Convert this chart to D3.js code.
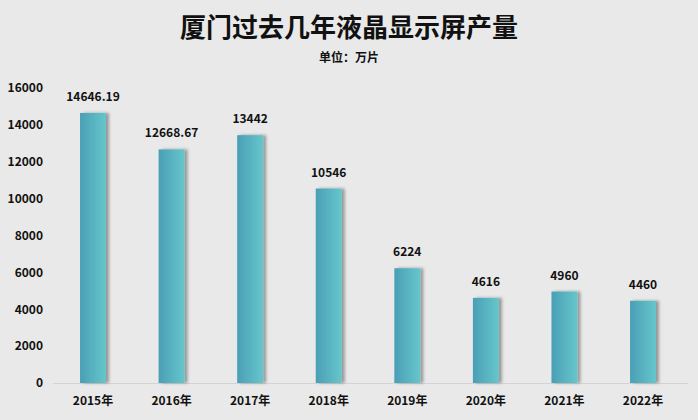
<!DOCTYPE html>
<html><head><meta charset="utf-8">
<script src="https://cdn.jsdelivr.net/npm/d3@7"></script>
<style>body{margin:0;background:#e9e9e9}text{font-family:"Noto Sans CJK SC","Noto Sans",sans-serif;font-weight:bold}</style>
</head><body><svg id="c" width="698" height="420"></svg>
<script>
var years = ['2015年','2016年','2017年','2018年','2019年','2020年','2021年','2022年'];
var values = [14646.19,12668.67,13442,10546,6224,4616,4960,4460];
var labels = ['14646.19','12668.67','13442','10546','6224','4616','4960','4460'];
var ticks = [0,2000,4000,6000,8000,10000,12000,14000,16000];

var svg = d3.select('#c');
var defs = svg.append('defs');
var g1 = defs.append('linearGradient').attr('id','bg');
g1.append('stop').attr('offset','0').attr('stop-color','#4a9fb6');
g1.append('stop').attr('offset','1').attr('stop-color','#66c6cb');
var f = defs.append('filter').attr('id','sh').attr('x','-20%').attr('width','160%');
f.append('feDropShadow').attr('dx',3).attr('dy',0).attr('stdDeviation',1.5).attr('flood-color','#000').attr('flood-opacity',0.35);

var x = d3.scaleBand().domain(years).range([53.7,682.3]).paddingInner(0.67).paddingOuter(0.335);
var y = d3.scaleLinear().domain([0,16000]).range([383,88]);

svg.append('text').attr('x',349).attr('y',37).attr('text-anchor','middle').attr('font-size',26).attr('fill','#111').text('厦门过去几年液晶显示屏产量');
svg.append('text').attr('x',349).attr('y',62).attr('text-anchor','middle').attr('font-size',12).attr('fill','#111').text('单位：万片');

var ya = svg.append('g').attr('transform','translate(46,0)').call(d3.axisLeft(y).tickValues(ticks).tickSize(0).tickFormat(d3.format('d')));
ya.select('.domain').remove();
ya.selectAll('text').attr('font-size',12).attr('fill','#111');

svg.append('line').attr('x1',53).attr('x2',688).attr('y1',383.5).attr('y2',383.5).attr('stroke','#d4d4d4');

svg.selectAll('rect.b').data(values).enter().append('rect').attr('class','b')
  .attr('x',function(d,i){return x(years[i]);}).attr('width',x.bandwidth())
  .attr('y',function(d){return y(d);}).attr('height',function(d){return 383-y(d);})
  .attr('fill','url(#bg)').attr('filter','url(#sh)');

svg.selectAll('text.v').data(values).enter().append('text').attr('class','v')
  .attr('x',function(d,i){return x(years[i])+x.bandwidth()/2;}).attr('y',function(d){return y(d)-12;})
  .attr('text-anchor','middle').attr('font-size',12).attr('fill','#111')
  .text(function(d,i){return labels[i];});

var xa = svg.append('g').attr('transform','translate(0,383)').call(d3.axisBottom(x).tickSize(0).tickPadding(13));
xa.select('.domain').remove();
xa.selectAll('text').attr('font-size',12).attr('fill','#111');
</script></body></html>
